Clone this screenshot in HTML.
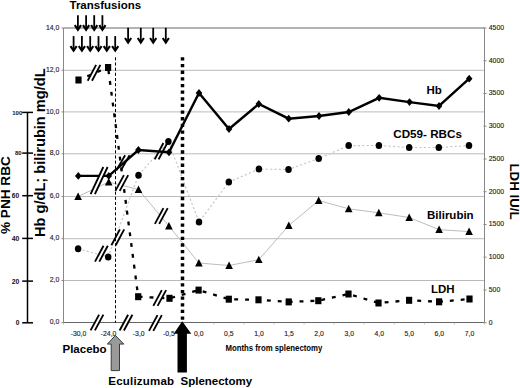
<!DOCTYPE html><html><head><meta charset="utf-8"><style>html,body{margin:0;padding:0;background:#fff;}svg{display:block;}text{font-family:"Liberation Sans",sans-serif;}</style></head><body>
<svg width="520" height="388" viewBox="0 0 520 388">
<line x1="63.5" y1="280.5" x2="484.5" y2="280.5" stroke="#bababa" stroke-width="1"/>
<line x1="63.5" y1="238.7" x2="484.5" y2="238.7" stroke="#bababa" stroke-width="1"/>
<line x1="63.5" y1="196.5" x2="484.5" y2="196.5" stroke="#bababa" stroke-width="1"/>
<line x1="63.5" y1="153.8" x2="484.5" y2="153.8" stroke="#bababa" stroke-width="1"/>
<line x1="63.5" y1="111.9" x2="484.5" y2="111.9" stroke="#bababa" stroke-width="1"/>
<line x1="63.5" y1="70.3" x2="484.5" y2="70.3" stroke="#bababa" stroke-width="1"/>
<line x1="63.5" y1="28.0" x2="484.5" y2="28.0" stroke="#9a9a9a" stroke-width="1.6"/>
<line x1="63.5" y1="28.0" x2="63.5" y2="322.7" stroke="#888" stroke-width="1"/>
<line x1="484.5" y1="28.0" x2="484.5" y2="322.7" stroke="#888" stroke-width="1"/>
<line x1="63.5" y1="322.5" x2="484.5" y2="322.5" stroke="#666" stroke-width="1.1"/>
<line x1="61.5" y1="322.7" x2="63.5" y2="322.7" stroke="#888" stroke-width="1"/>
<text transform="translate(59.3,324.3) scale(0.86,1)" font-size="8" fill="#222" stroke="#222" stroke-width="0.15" text-anchor="end">0,0</text>
<line x1="61.5" y1="280.5" x2="63.5" y2="280.5" stroke="#888" stroke-width="1"/>
<text transform="translate(59.3,282.1) scale(0.86,1)" font-size="8" fill="#222" stroke="#222" stroke-width="0.15" text-anchor="end">2,0</text>
<line x1="61.5" y1="238.7" x2="63.5" y2="238.7" stroke="#888" stroke-width="1"/>
<text transform="translate(59.3,240.3) scale(0.86,1)" font-size="8" fill="#222" stroke="#222" stroke-width="0.15" text-anchor="end">4,0</text>
<line x1="61.5" y1="196.5" x2="63.5" y2="196.5" stroke="#888" stroke-width="1"/>
<text transform="translate(59.3,198.1) scale(0.86,1)" font-size="8" fill="#222" stroke="#222" stroke-width="0.15" text-anchor="end">6,0</text>
<line x1="61.5" y1="153.8" x2="63.5" y2="153.8" stroke="#888" stroke-width="1"/>
<text transform="translate(59.3,155.4) scale(0.86,1)" font-size="8" fill="#222" stroke="#222" stroke-width="0.15" text-anchor="end">8,0</text>
<line x1="61.5" y1="111.9" x2="63.5" y2="111.9" stroke="#888" stroke-width="1"/>
<text transform="translate(59.3,113.5) scale(0.86,1)" font-size="8" fill="#222" stroke="#222" stroke-width="0.15" text-anchor="end">10,0</text>
<line x1="61.5" y1="70.3" x2="63.5" y2="70.3" stroke="#888" stroke-width="1"/>
<text transform="translate(59.3,71.9) scale(0.86,1)" font-size="8" fill="#222" stroke="#222" stroke-width="0.15" text-anchor="end">12,0</text>
<line x1="61.5" y1="28.0" x2="63.5" y2="28.0" stroke="#888" stroke-width="1"/>
<text transform="translate(59.3,29.6) scale(0.86,1)" font-size="8" fill="#222" stroke="#222" stroke-width="0.15" text-anchor="end">14,0</text>
<line x1="483.5" y1="322.7" x2="486.5" y2="322.7" stroke="#888" stroke-width="1"/>
<text transform="translate(488.8,324.5) scale(0.86,1)" font-size="8" fill="#222" stroke="#222" stroke-width="0.15">0</text>
<line x1="483.5" y1="290.0" x2="486.5" y2="290.0" stroke="#888" stroke-width="1"/>
<text transform="translate(488.8,291.8) scale(0.86,1)" font-size="8" fill="#222" stroke="#222" stroke-width="0.15">500</text>
<line x1="483.5" y1="257.2" x2="486.5" y2="257.2" stroke="#888" stroke-width="1"/>
<text transform="translate(488.8,259.0) scale(0.86,1)" font-size="8" fill="#222" stroke="#222" stroke-width="0.15">1000</text>
<line x1="483.5" y1="224.5" x2="486.5" y2="224.5" stroke="#888" stroke-width="1"/>
<text transform="translate(488.8,226.3) scale(0.86,1)" font-size="8" fill="#222" stroke="#222" stroke-width="0.15">1500</text>
<line x1="483.5" y1="191.7" x2="486.5" y2="191.7" stroke="#888" stroke-width="1"/>
<text transform="translate(488.8,193.5) scale(0.86,1)" font-size="8" fill="#222" stroke="#222" stroke-width="0.15">2000</text>
<line x1="483.5" y1="159.0" x2="486.5" y2="159.0" stroke="#888" stroke-width="1"/>
<text transform="translate(488.8,160.8) scale(0.86,1)" font-size="8" fill="#222" stroke="#222" stroke-width="0.15">2500</text>
<line x1="483.5" y1="126.2" x2="486.5" y2="126.2" stroke="#888" stroke-width="1"/>
<text transform="translate(488.8,128.0) scale(0.86,1)" font-size="8" fill="#222" stroke="#222" stroke-width="0.15">3000</text>
<line x1="483.5" y1="93.5" x2="486.5" y2="93.5" stroke="#888" stroke-width="1"/>
<text transform="translate(488.8,95.3) scale(0.86,1)" font-size="8" fill="#222" stroke="#222" stroke-width="0.15">3500</text>
<line x1="483.5" y1="60.7" x2="486.5" y2="60.7" stroke="#888" stroke-width="1"/>
<text transform="translate(488.8,62.5) scale(0.86,1)" font-size="8" fill="#222" stroke="#222" stroke-width="0.15">4000</text>
<line x1="483.5" y1="28.0" x2="486.5" y2="28.0" stroke="#888" stroke-width="1"/>
<text transform="translate(488.8,29.8) scale(0.86,1)" font-size="8" fill="#222" stroke="#222" stroke-width="0.15">4500</text>
<line x1="63.5" y1="322.7" x2="63.5" y2="324.7" stroke="#bbb" stroke-width="0.8"/>
<line x1="93.6" y1="322.7" x2="93.6" y2="324.7" stroke="#bbb" stroke-width="0.8"/>
<line x1="123.6" y1="322.7" x2="123.6" y2="324.7" stroke="#bbb" stroke-width="0.8"/>
<line x1="153.7" y1="322.7" x2="153.7" y2="324.7" stroke="#bbb" stroke-width="0.8"/>
<line x1="183.8" y1="322.7" x2="183.8" y2="324.7" stroke="#bbb" stroke-width="0.8"/>
<line x1="213.9" y1="322.7" x2="213.9" y2="324.7" stroke="#bbb" stroke-width="0.8"/>
<line x1="243.9" y1="322.7" x2="243.9" y2="324.7" stroke="#bbb" stroke-width="0.8"/>
<line x1="274.0" y1="322.7" x2="274.0" y2="324.7" stroke="#bbb" stroke-width="0.8"/>
<line x1="304.1" y1="322.7" x2="304.1" y2="324.7" stroke="#bbb" stroke-width="0.8"/>
<line x1="334.1" y1="322.7" x2="334.1" y2="324.7" stroke="#bbb" stroke-width="0.8"/>
<line x1="364.2" y1="322.7" x2="364.2" y2="324.7" stroke="#bbb" stroke-width="0.8"/>
<line x1="394.3" y1="322.7" x2="394.3" y2="324.7" stroke="#bbb" stroke-width="0.8"/>
<line x1="424.4" y1="322.7" x2="424.4" y2="324.7" stroke="#bbb" stroke-width="0.8"/>
<line x1="454.4" y1="322.7" x2="454.4" y2="324.7" stroke="#bbb" stroke-width="0.8"/>
<line x1="484.5" y1="322.7" x2="484.5" y2="324.7" stroke="#bbb" stroke-width="0.8"/>
<text transform="translate(78.5,335.9) scale(0.86,1)" font-size="8" fill="#222" stroke="#222" stroke-width="0.15" text-anchor="middle">-30,0</text>
<text transform="translate(108.6,335.9) scale(0.86,1)" font-size="8" fill="#222" stroke="#222" stroke-width="0.15" text-anchor="middle">-24,0</text>
<text transform="translate(138.7,335.9) scale(0.86,1)" font-size="8" fill="#222" stroke="#222" stroke-width="0.15" text-anchor="middle">-3,0</text>
<text transform="translate(168.8,335.9) scale(0.86,1)" font-size="8" fill="#222" stroke="#222" stroke-width="0.15" text-anchor="middle">-0,5</text>
<text transform="translate(198.8,335.9) scale(0.86,1)" font-size="8" fill="#222" stroke="#222" stroke-width="0.15" text-anchor="middle">0,0</text>
<text transform="translate(228.9,335.9) scale(0.86,1)" font-size="8" fill="#222" stroke="#222" stroke-width="0.15" text-anchor="middle">0,5</text>
<text transform="translate(259.0,335.9) scale(0.86,1)" font-size="8" fill="#222" stroke="#222" stroke-width="0.15" text-anchor="middle">1,0</text>
<text transform="translate(289.0,335.9) scale(0.86,1)" font-size="8" fill="#222" stroke="#222" stroke-width="0.15" text-anchor="middle">1,5</text>
<text transform="translate(319.1,335.9) scale(0.86,1)" font-size="8" fill="#222" stroke="#222" stroke-width="0.15" text-anchor="middle">2,0</text>
<text transform="translate(349.2,335.9) scale(0.86,1)" font-size="8" fill="#222" stroke="#222" stroke-width="0.15" text-anchor="middle">3,0</text>
<text transform="translate(379.2,335.9) scale(0.86,1)" font-size="8" fill="#222" stroke="#222" stroke-width="0.15" text-anchor="middle">4,0</text>
<text transform="translate(409.3,335.9) scale(0.86,1)" font-size="8" fill="#222" stroke="#222" stroke-width="0.15" text-anchor="middle">5,0</text>
<text transform="translate(439.4,335.9) scale(0.86,1)" font-size="8" fill="#222" stroke="#222" stroke-width="0.15" text-anchor="middle">6,0</text>
<text transform="translate(469.5,335.9) scale(0.86,1)" font-size="8" fill="#222" stroke="#222" stroke-width="0.15" text-anchor="middle">7,0</text>
<polyline points="78.1,196.5 108.7,182.0 138.5,189.5 168.9,226.0 198.9,263.0 229.1,265.5 258.8,259.7 288.8,225.5 318.7,200.5 348.7,208.8 378.8,212.8 409.2,217.5 439.1,229.6 469.1,231.6" fill="none" stroke="#bdbdbd" stroke-width="1"/>
<polyline points="78.1,248.8 108.2,256.9 138.5,175.2 168.4,141.6 199.0,222.1 228.8,182.1 258.9,169.1 288.5,169.5 318.7,158.5 348.7,145.6 378.9,145.5 409.2,147.5 438.8,147.5 469.0,145.6" fill="none" stroke="#c6c6c6" stroke-width="1.15" stroke-dasharray="2.2 2.2"/>
<polyline points="78.5,80.0 108.1,67.5" fill="none" stroke="#000" stroke-width="2.3" stroke-dasharray="3.9 7" stroke-dashoffset="1.4"/>
<polyline points="108.1,67.5 138.2,296.7 169.5,298.3 198.6,290.1 228.8,299.2 258.5,299.8 288.7,301.9 318.3,300.7 348.5,294.0 378.5,303.0 409.1,300.3 439.1,301.8 469.5,299.0" fill="none" stroke="#000" stroke-width="2.3" stroke-dasharray="3.9 7" stroke-dashoffset="8.2"/>
<polyline points="78.3,175.9 108.8,175.9 138.4,150.0 169.0,152.3 199.0,93.0 229.0,129.0 258.8,104.0 288.7,118.7 319.0,116.0 348.8,112.0 379.2,97.8 409.5,102.1 439.0,106.0 469.2,78.7" fill="none" stroke="#000" stroke-width="2.4" stroke-linejoin="miter"/>
<polygon points="90.6,330.4 99.1,314.6 103.4,314.6 94.9,330.4" fill="#fff"/><line x1="90.6" y1="330.4" x2="99.1" y2="314.6" stroke="#000" stroke-width="1.85"/><line x1="94.9" y1="330.4" x2="103.4" y2="314.6" stroke="#000" stroke-width="1.85"/>
<polygon points="119.6,330.5 128.1,314.7 132.4,314.7 123.9,330.5" fill="#fff"/><line x1="119.6" y1="330.5" x2="128.1" y2="314.7" stroke="#000" stroke-width="1.85"/><line x1="123.9" y1="330.5" x2="132.4" y2="314.7" stroke="#000" stroke-width="1.85"/>
<polygon points="149.0,330.9 157.5,315.1 161.8,315.1 153.3,330.9" fill="#fff"/><line x1="149.0" y1="330.9" x2="157.5" y2="315.1" stroke="#000" stroke-width="1.85"/><line x1="153.3" y1="330.9" x2="161.8" y2="315.1" stroke="#000" stroke-width="1.85"/>
<polygon points="87.7,80.7 96.1,64.9 100.4,64.9 92.0,80.7" fill="#fff"/><line x1="87.7" y1="80.7" x2="96.1" y2="64.9" stroke="#000" stroke-width="1.85"/><line x1="92.0" y1="80.7" x2="100.4" y2="64.9" stroke="#000" stroke-width="1.85"/>
<polygon points="90.6,194.2 103.3,167.0 107.6,167.0 94.9,194.2" fill="#fff"/><line x1="90.6" y1="194.2" x2="103.3" y2="167.0" stroke="#000" stroke-width="1.85"/><line x1="94.9" y1="194.2" x2="107.6" y2="167.0" stroke="#000" stroke-width="1.85"/>
<polygon points="95.0,261.6 103.5,245.8 107.8,245.8 99.3,261.6" fill="#fff"/><line x1="95.0" y1="261.6" x2="103.5" y2="245.8" stroke="#000" stroke-width="1.85"/><line x1="99.3" y1="261.6" x2="107.8" y2="245.8" stroke="#000" stroke-width="1.85"/>
<polygon points="111.4,245.2 119.9,229.4 124.2,229.4 115.7,245.2" fill="#fff"/><line x1="111.4" y1="245.2" x2="119.9" y2="229.4" stroke="#000" stroke-width="1.85"/><line x1="115.7" y1="245.2" x2="124.2" y2="229.4" stroke="#000" stroke-width="1.85"/>
<polygon points="115.4,190.9 123.9,175.1 128.2,175.1 119.7,190.9" fill="#fff"/><line x1="115.4" y1="190.9" x2="123.9" y2="175.1" stroke="#000" stroke-width="1.85"/><line x1="119.7" y1="190.9" x2="128.2" y2="175.1" stroke="#000" stroke-width="1.85"/>
<line x1="116.4" y1="170.4" x2="125.1" y2="155.2" stroke="#000" stroke-width="1.85"/><line x1="120.9" y1="170.4" x2="129.6" y2="155.2" stroke="#000" stroke-width="1.85"/>
<polygon points="154.9,223.9 163.4,208.1 167.7,208.1 159.2,223.9" fill="#fff"/><line x1="154.9" y1="223.9" x2="163.4" y2="208.1" stroke="#000" stroke-width="1.85"/><line x1="159.2" y1="223.9" x2="167.7" y2="208.1" stroke="#000" stroke-width="1.85"/>
<line x1="154.7" y1="159.4" x2="163.4" y2="143.0" stroke="#000" stroke-width="1.85"/><line x1="158.6" y1="159.4" x2="167.3" y2="143.0" stroke="#000" stroke-width="1.85"/>
<polygon points="153.3,305.9 161.8,290.1 166.1,290.1 157.6,305.9" fill="#fff"/><line x1="153.3" y1="305.9" x2="161.8" y2="290.1" stroke="#000" stroke-width="1.85"/><line x1="157.6" y1="305.9" x2="166.1" y2="290.1" stroke="#000" stroke-width="1.85"/>
<line x1="115.5" y1="57.3" x2="115.5" y2="322.7" stroke="#000" stroke-width="1" stroke-dasharray="3.1 2.065"/>
<line x1="182.5" y1="57.3" x2="182.5" y2="322.7" stroke="#000" stroke-width="3.5" stroke-dasharray="3.3 3.345"/>
<polygon points="78.1,192.5 81.9,199.9 74.3,199.9" fill="#000"/>
<polygon points="108.7,178.0 112.5,185.4 104.9,185.4" fill="#000"/>
<polygon points="138.5,185.5 142.3,192.9 134.7,192.9" fill="#000"/>
<polygon points="168.9,222.0 172.7,229.4 165.1,229.4" fill="#000"/>
<polygon points="198.9,259.0 202.7,266.4 195.1,266.4" fill="#000"/>
<polygon points="229.1,261.5 232.9,268.9 225.3,268.9" fill="#000"/>
<polygon points="258.8,255.7 262.6,263.1 255.0,263.1" fill="#000"/>
<polygon points="288.8,221.5 292.6,228.9 285.0,228.9" fill="#000"/>
<polygon points="318.7,196.5 322.5,203.9 314.9,203.9" fill="#000"/>
<polygon points="348.7,204.8 352.5,212.2 344.9,212.2" fill="#000"/>
<polygon points="378.8,208.8 382.6,216.2 375.0,216.2" fill="#000"/>
<polygon points="409.2,213.5 413.0,220.9 405.4,220.9" fill="#000"/>
<polygon points="439.1,225.6 442.9,233.0 435.3,233.0" fill="#000"/>
<polygon points="469.1,227.6 472.9,235.0 465.3,235.0" fill="#000"/>
<ellipse cx="78.1" cy="248.8" rx="3.25" ry="3.5" fill="#000"/>
<ellipse cx="108.2" cy="256.9" rx="3.25" ry="3.5" fill="#000"/>
<ellipse cx="138.5" cy="175.2" rx="3.25" ry="3.5" fill="#000"/>
<ellipse cx="168.4" cy="141.6" rx="3.25" ry="3.5" fill="#000"/>
<ellipse cx="199.0" cy="222.1" rx="3.25" ry="3.5" fill="#000"/>
<ellipse cx="228.8" cy="182.1" rx="3.25" ry="3.5" fill="#000"/>
<ellipse cx="258.9" cy="169.1" rx="3.25" ry="3.5" fill="#000"/>
<ellipse cx="288.5" cy="169.5" rx="3.25" ry="3.5" fill="#000"/>
<ellipse cx="318.7" cy="158.5" rx="3.25" ry="3.5" fill="#000"/>
<ellipse cx="348.7" cy="145.6" rx="3.25" ry="3.5" fill="#000"/>
<ellipse cx="378.9" cy="145.5" rx="3.25" ry="3.5" fill="#000"/>
<ellipse cx="409.2" cy="147.5" rx="3.25" ry="3.5" fill="#000"/>
<ellipse cx="438.8" cy="147.5" rx="3.25" ry="3.5" fill="#000"/>
<ellipse cx="469.0" cy="145.6" rx="3.25" ry="3.5" fill="#000"/>
<rect x="75.4" y="76.5" width="6.2" height="7" fill="#000"/>
<rect x="105.0" y="64.0" width="6.2" height="7" fill="#000"/>
<rect x="135.1" y="293.2" width="6.2" height="7" fill="#000"/>
<rect x="166.4" y="294.8" width="6.2" height="7" fill="#000"/>
<rect x="195.5" y="286.6" width="6.2" height="7" fill="#000"/>
<rect x="225.7" y="295.7" width="6.2" height="7" fill="#000"/>
<rect x="255.4" y="296.3" width="6.2" height="7" fill="#000"/>
<rect x="285.6" y="298.4" width="6.2" height="7" fill="#000"/>
<rect x="315.2" y="297.2" width="6.2" height="7" fill="#000"/>
<rect x="345.4" y="290.5" width="6.2" height="7" fill="#000"/>
<rect x="375.4" y="299.5" width="6.2" height="7" fill="#000"/>
<rect x="406.0" y="296.8" width="6.2" height="7" fill="#000"/>
<rect x="436.0" y="298.3" width="6.2" height="7" fill="#000"/>
<rect x="466.4" y="295.5" width="6.2" height="7" fill="#000"/>
<polygon points="78.3,172.0 81.6,175.9 78.3,179.8 75.0,175.9" fill="#000"/>
<polygon points="108.8,172.0 112.1,175.9 108.8,179.8 105.5,175.9" fill="#000"/>
<polygon points="138.4,146.1 141.7,150.0 138.4,153.9 135.1,150.0" fill="#000"/>
<polygon points="169.0,148.4 172.3,152.3 169.0,156.2 165.7,152.3" fill="#000"/>
<polygon points="199.0,89.1 202.3,93.0 199.0,96.9 195.7,93.0" fill="#000"/>
<polygon points="229.0,125.1 232.3,129.0 229.0,132.9 225.7,129.0" fill="#000"/>
<polygon points="258.8,100.1 262.1,104.0 258.8,107.9 255.5,104.0" fill="#000"/>
<polygon points="288.7,114.8 292.0,118.7 288.7,122.6 285.4,118.7" fill="#000"/>
<polygon points="319.0,112.1 322.3,116.0 319.0,119.9 315.7,116.0" fill="#000"/>
<polygon points="348.8,108.1 352.1,112.0 348.8,115.9 345.5,112.0" fill="#000"/>
<polygon points="379.2,93.9 382.5,97.8 379.2,101.7 375.9,97.8" fill="#000"/>
<polygon points="409.5,98.2 412.8,102.1 409.5,106.0 406.2,102.1" fill="#000"/>
<polygon points="439.0,102.1 442.3,106.0 439.0,109.9 435.7,106.0" fill="#000"/>
<polygon points="469.2,74.8 472.5,78.7 469.2,82.6 465.9,78.7" fill="#000"/>
<line x1="77.9" y1="15.2" x2="77.9" y2="29.9" stroke="#000" stroke-width="1.8"/><polyline points="74.80000000000001,25.2 77.9,29.799999999999997 81.0,25.2" fill="none" stroke="#000" stroke-width="2.1" stroke-linejoin="miter" stroke-miterlimit="10"/>
<line x1="86.1" y1="15.2" x2="86.1" y2="29.9" stroke="#000" stroke-width="1.8"/><polyline points="83.0,25.2 86.1,29.799999999999997 89.19999999999999,25.2" fill="none" stroke="#000" stroke-width="2.1" stroke-linejoin="miter" stroke-miterlimit="10"/>
<line x1="94.2" y1="15.2" x2="94.2" y2="29.9" stroke="#000" stroke-width="1.8"/><polyline points="91.10000000000001,25.2 94.2,29.799999999999997 97.3,25.2" fill="none" stroke="#000" stroke-width="2.1" stroke-linejoin="miter" stroke-miterlimit="10"/>
<line x1="102.4" y1="15.2" x2="102.4" y2="29.9" stroke="#000" stroke-width="1.8"/><polyline points="99.30000000000001,25.2 102.4,29.799999999999997 105.5,25.2" fill="none" stroke="#000" stroke-width="2.1" stroke-linejoin="miter" stroke-miterlimit="10"/>
<line x1="73.6" y1="36.1" x2="73.6" y2="50.8" stroke="#000" stroke-width="1.8"/><polyline points="70.5,46.099999999999994 73.6,50.699999999999996 76.69999999999999,46.099999999999994" fill="none" stroke="#000" stroke-width="2.1" stroke-linejoin="miter" stroke-miterlimit="10"/>
<line x1="81.9" y1="36.1" x2="81.9" y2="50.8" stroke="#000" stroke-width="1.8"/><polyline points="78.80000000000001,46.099999999999994 81.9,50.699999999999996 85.0,46.099999999999994" fill="none" stroke="#000" stroke-width="2.1" stroke-linejoin="miter" stroke-miterlimit="10"/>
<line x1="90.2" y1="36.1" x2="90.2" y2="50.8" stroke="#000" stroke-width="1.8"/><polyline points="87.10000000000001,46.099999999999994 90.2,50.699999999999996 93.3,46.099999999999994" fill="none" stroke="#000" stroke-width="2.1" stroke-linejoin="miter" stroke-miterlimit="10"/>
<line x1="98.5" y1="36.1" x2="98.5" y2="50.8" stroke="#000" stroke-width="1.8"/><polyline points="95.4,46.099999999999994 98.5,50.699999999999996 101.6,46.099999999999994" fill="none" stroke="#000" stroke-width="2.1" stroke-linejoin="miter" stroke-miterlimit="10"/>
<line x1="106.8" y1="36.1" x2="106.8" y2="50.8" stroke="#000" stroke-width="1.8"/><polyline points="103.7,46.099999999999994 106.8,50.699999999999996 109.89999999999999,46.099999999999994" fill="none" stroke="#000" stroke-width="2.1" stroke-linejoin="miter" stroke-miterlimit="10"/>
<line x1="115.2" y1="36.1" x2="115.2" y2="50.8" stroke="#000" stroke-width="1.8"/><polyline points="112.10000000000001,46.099999999999994 115.2,50.699999999999996 118.3,46.099999999999994" fill="none" stroke="#000" stroke-width="2.1" stroke-linejoin="miter" stroke-miterlimit="10"/>
<line x1="128.1" y1="27.8" x2="128.1" y2="42.7" stroke="#000" stroke-width="1.8"/><polyline points="125.0,38.0 128.1,42.6 131.2,38.0" fill="none" stroke="#000" stroke-width="2.1" stroke-linejoin="miter" stroke-miterlimit="10"/>
<line x1="140.8" y1="27.8" x2="140.8" y2="42.7" stroke="#000" stroke-width="1.8"/><polyline points="137.70000000000002,38.0 140.8,42.6 143.9,38.0" fill="none" stroke="#000" stroke-width="2.1" stroke-linejoin="miter" stroke-miterlimit="10"/>
<line x1="153.2" y1="27.8" x2="153.2" y2="42.7" stroke="#000" stroke-width="1.8"/><polyline points="150.1,38.0 153.2,42.6 156.29999999999998,38.0" fill="none" stroke="#000" stroke-width="2.1" stroke-linejoin="miter" stroke-miterlimit="10"/>
<line x1="165.8" y1="27.8" x2="165.8" y2="42.7" stroke="#000" stroke-width="1.8"/><polyline points="162.70000000000002,38.0 165.8,42.6 168.9,38.0" fill="none" stroke="#000" stroke-width="2.1" stroke-linejoin="miter" stroke-miterlimit="10"/>
<line x1="27.5" y1="112.4" x2="27.5" y2="322.8" stroke="#000" stroke-width="1.5"/>
<line x1="22.2" y1="322.8" x2="33" y2="322.8" stroke="#000" stroke-width="1.5"/>
<text x="19.3" y="325.2" font-size="6.6" font-weight="bold" fill="#111" text-anchor="end">0</text>
<line x1="22.2" y1="281.1" x2="33" y2="281.1" stroke="#000" stroke-width="1.5"/>
<text x="19.4" y="283.5" font-size="6.8" font-weight="bold" fill="#111" text-anchor="end">20</text>
<line x1="22.2" y1="238.4" x2="33" y2="238.4" stroke="#000" stroke-width="1.5"/>
<text x="19.4" y="240.8" font-size="6.8" font-weight="bold" fill="#111" text-anchor="end">40</text>
<line x1="22.2" y1="195.7" x2="33" y2="195.7" stroke="#000" stroke-width="1.5"/>
<text x="19.1" y="198.1" font-size="6.6" font-weight="bold" fill="#111" text-anchor="end">60</text>
<line x1="22.2" y1="153.1" x2="33" y2="153.1" stroke="#000" stroke-width="1.5"/>
<text x="21.6" y="155.3" font-size="6.0" font-weight="bold" fill="#111" text-anchor="end">80</text>
<line x1="22.2" y1="112.4" x2="33" y2="112.4" stroke="#000" stroke-width="1.5"/>
<text x="22.3" y="114.6" font-size="6.0" font-weight="bold" fill="#111" text-anchor="end">100</text>
<text transform="translate(10.4,234) rotate(-90)" font-size="13.6" font-weight="bold" fill="#000">% PNH RBC</text>
<text transform="translate(44.8,237) rotate(-90)" font-size="14.6" font-weight="bold" fill="#000">Hb g/dL; bilirubin mg/dL</text>
<text transform="translate(509.5,163.5) rotate(90)" font-size="13.3" font-weight="bold" fill="#000">LDH IU/L</text>
<text x="69.5" y="9.4" font-size="11.5" font-weight="bold" fill="#000">Transfusions</text>
<text x="426.5" y="93.8" font-size="11.5" font-weight="bold" fill="#000">Hb</text>
<text x="393.3" y="138.2" font-size="11.65" font-weight="bold" fill="#000">CD59- RBCs</text>
<text x="427" y="219.2" font-size="11.5" font-weight="bold" fill="#000">Bilirubin</text>
<text x="431" y="293.1" font-size="11.5" font-weight="bold" fill="#000">LDH</text>
<text x="62.5" y="352.8" font-size="11.5" font-weight="bold" fill="#000">Placebo</text>
<text x="108.3" y="384.8" font-size="11.5" font-weight="bold" fill="#000" letter-spacing="0.2">Eculizumab</text>
<text x="180.5" y="384.8" font-size="11.5" font-weight="bold" fill="#000">Splenectomy</text>
<text x="225.4" y="351.2" font-size="9.6" font-weight="bold" fill="#000" textLength="97" lengthAdjust="spacingAndGlyphs">Months from splenectomy</text>
<polygon points="115.4,335.4 123.8,344.1 119.5,344.1 119.5,370.6 111.2,370.6 111.2,344.1 107.4,344.1" fill="#9a9a9a" stroke="#2a2a2a" stroke-width="0.9"/>
<polygon points="182.2,321.2 191.3,333.7 186.9,333.7 186.9,372.4 177.5,372.4 177.5,333.7 173.7,333.7" fill="#000"/>
</svg></body></html>
